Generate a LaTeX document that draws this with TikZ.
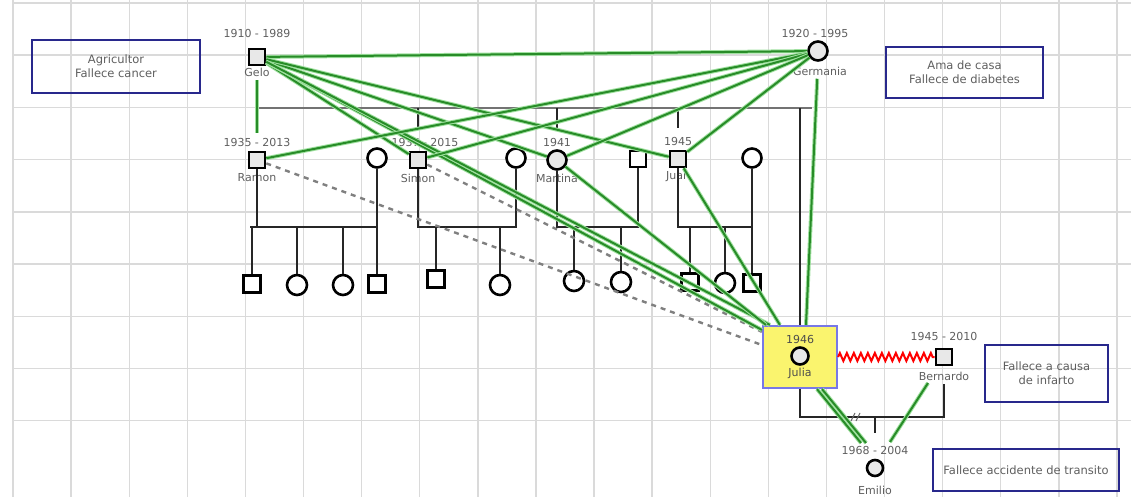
\documentclass[tikz,border=0pt]{standalone}
\usepackage{fontspec}
\setmainfont{DejaVu Sans}
\usetikzlibrary{calc,decorations.pathmorphing}
\definecolor{gline}{RGB}{40,140,40}
\definecolor{ghalo}{RGB}{160,225,160}
\definecolor{boxblue}{RGB}{40,40,140}
\definecolor{julbord}{RGB}{120,120,230}
\definecolor{julfill}{RGB}{250,244,110}
\definecolor{txt}{RGB}{95,95,95}
\definecolor{gridc}{RGB}{218,218,218}
\begin{document}
\begin{tikzpicture}[x=1pt,y=-1pt,
  gridline/.style={draw=gridc,line width=1.4pt},
  male/.style={draw=black,line width=2.6pt,rectangle,minimum size=16pt,inner sep=0pt,fill=white},
  female/.style={draw=black,line width=2.6pt,circle,minimum size=19pt,inner sep=0pt,fill=white},
  named/.style={fill=gray!18},
  lbl/.style={text=txt,font=\fontsize{11}{12}\selectfont,inner sep=0pt},
  note/.style={draw=boxblue,line width=2.2pt,text=txt,font=\fontsize{11.5}{14}\selectfont,align=center,inner sep=0pt},
  famline/.style={draw=black!85,line width=2.5pt},
  sibline/.style={draw=black!55,line width=2pt},
  emo/.style={draw=gline,line width=2pt,preaction={draw=ghalo,line width=4pt}},
  dashline/.style={draw=black!50,line width=2.4pt,dash pattern=on 5pt off 5pt},
  julbox/.style={draw=julbord,fill=julfill,line width=2.2pt,minimum width=74pt,minimum height=62pt,inner sep=0pt}
]
\useasboundingbox (0,0) rectangle (1131,497);
\fill[white] (0,0) rectangle (1131,497);
% grid
\foreach \i in {0,...,19} \draw[gridline] ({13+58.1*\i},0) -- ({13+58.1*\i},497);
\foreach \j in {0,...,8} \draw[gridline] (13,{3+52.2*\j}) -- (1131,{3+52.2*\j});

% notes
\node[note,minimum width=168pt,minimum height=53pt] (n1) at (116,66.5) {Agricultor\\Fallece cancer};
\node[note,minimum width=157pt,minimum height=51pt] (n2) at (964.5,72.5) {Ama de casa\\Fallece de diabetes};
\node[note,minimum width=123pt,minimum height=57pt] (n3) at (1046.5,373.5) {Fallece a causa\\de infarto};
\node[note,minimum width=186pt,minimum height=42pt] (n4) at (1026,470) {Fallece accidente de transito};

% grandparents
\node[male,named] (gelo) at (257,57) {};
\node[lbl] (geloy) at (257,33) {1910 - 1989};
\node[lbl] (gelon) at (257,72) {Gelo};
\node[female,named] (germania) at (818,51) {};
\node[lbl] (germy) at (815,33) {1920 - 1995};
\node[lbl] (germn) at (820,71) {Germania};

% generation 2
\node[male,named] (ramon) at (257,160) {};
\node[lbl] (ramony) at (257,142) {1935 - 2013};
\node[lbl] (ramonn) at (257,178) {Ramon};
\node[male,named] (simon) at (418,160) {};
\node[lbl] (simony) at (425,142) {1937 - 2015};
\node[lbl] (simonn) at (418,178) {Simon};
\node[female,named] (martina) at (557,160) {};
\node[lbl] (martinay) at (557,142) {1941};
\node[lbl] (martinan) at (557,178) {Martina};
\node[male,named] (juan) at (678,159) {};
\node[lbl] (juany) at (678,141) {1945};
\node[lbl] (juann) at (678,177) {Juan};
\node[female] (p1) at (377,158) {};
\node[female] (p2) at (516,158) {};
\node[male] (p3) at (638,159) {};
\node[female] (p4) at (752,158) {};

% generation 3
\node[male,minimum size=17pt] (c1) at (252,284) {};
\node[female,minimum size=20pt] (c2) at (297,285) {};
\node[female,minimum size=20pt] (c3) at (343,285) {};
\node[male,minimum size=17pt] (c4) at (377,284) {};
\node[male,minimum size=17pt] (c5) at (436,279) {};
\node[female,minimum size=20pt] (c6) at (500,285) {};
\node[female,minimum size=20pt] (c7) at (574,281) {};
\node[female,minimum size=20pt] (c8) at (621,282) {};
\node[male,minimum size=17pt] (c9) at (690,282) {};
\node[female,minimum size=20pt] (c10) at (725,283) {};
\node[male,minimum size=17pt] (c11) at (752,283) {};

% Julia, Bernardo, Emilio
\node[julbox] (julia) at (800,357) {};
\node[lbl,text=black!70] (juliay) at (800,339) {1946};
\node[female,named,minimum size=17pt] (juliac) at (800,356) {};
\node[lbl,text=black!70] (julian) at (800,373) {Julia};
\node[male,named] (bernardo) at (944,357) {};
\node[lbl] (bernardoy) at (944,336) {1945 - 2010};
\node[lbl] (bernardon) at (944,376) {Bernardo};
\node[female,named,minimum size=16pt] (emilio) at (875,468) {};
\node[lbl] (emilioy) at (875,450) {1968 - 2004};
\node[lbl] (emilion) at (875,490) {Emilio};

% junction coordinates
\coordinate (sibL) at (259,108);
\coordinate (sibR) at (812,108);
\coordinate (rL) at (250,227);
\coordinate (rR) at (377,227);
\coordinate (sj) at (0,227);
\coordinate (mj) at (0,417);
\coordinate (bdrop) at (944,384);
\coordinate (edrop) at (875,433);

% sibling line
\draw[sibline] (sibL) -- (sibR);
\draw[famline] (simon.north |- sibL) -- ($(simon.north)+(0,-24)$);
\draw[famline] (martina.north |- sibL) -- ($(martina.north)+(0,-21)$);
\draw[famline] (juan.north |- sibL) -- ($(juan.north)+(0,-22)$);
\draw[famline] (julia.north |- sibL) -- (julia.north);

% Ramon family
\draw[famline] (ramon.south) -- (ramon.south |- rL);
\draw[famline] (rL) -- (rR);
\draw[famline] (p1.south) -- (c4.north);
\draw[famline] (c1.north) -- (c1.north |- rL);
\draw[famline] (c2.north) -- (c2.north |- rL);
\draw[famline] (c3.north) -- (c3.north |- rL);
% Simon family
\draw[famline] (simon.south) -- (simon.south |- sj) -- (p2.south |- sj) -- (p2.south);
\draw[famline] (c5.north) -- (c5.north |- sj);
\draw[famline] (c6.north) -- (c6.north |- sj);
% Martina family
\draw[famline] (martina.south) -- (martina.south |- sj) -- (p3.south |- sj) -- (p3.south);
\draw[famline] (c7.north) -- (c7.north |- sj);
\draw[famline] (c8.north) -- (c8.north |- sj);
% Juan family
\draw[famline] (juan.south) -- (juan.south |- sj) -- (p4.south |- sj);
\draw[famline] (p4.south) -- (c11.north);
\draw[famline] (c9.north) -- (c9.north |- sj);
\draw[famline] (c10.north) -- (c10.north |- sj);

% Julia - Bernardo
\draw[famline] (julia.south) -- (julia.south |- mj) -- (bdrop |- mj) -- (bdrop);
\draw[famline] (edrop |- mj) -- (edrop);
\draw[black!60,line width=1pt] (851,421) -- (855,413) (856,421) -- (860,413);
\draw[red,line width=2pt,decorate,decoration={zigzag,segment length=7pt,amplitude=4pt}] (julia.east) -- (bernardo.west);

% dashed relations
\draw[dashline] (ramon) -- ($(julia.west)+(0,-12)$);
\draw[dashline] (simon) -- ($(julia.north west)+(0,7)$);

% emotional relations (green)
\draw[emo] (gelo) -- (germania);
\draw[emo,shorten <=14pt,shorten >=18pt] (gelo) -- (ramon);
\draw[emo] (gelo) -- (simon);
\draw[emo] (gelo) -- (martina);
\draw[emo] (gelo) -- (juan);
\draw[emo] (gelo) -- ($(julia.north west)+(0,5)$);
\draw[emo] (gelo) -- ($(julia.north west)+(8,0)$);
\draw[emo] (germania) -- (ramon);
\draw[emo] (germania) -- (simon);
\draw[emo] (germania) -- (martina);
\draw[emo] (germania) -- (juan);
\draw[emo,shorten <=17pt] (germania.south) -- ($(julia.north)+(6,0)$);
\draw[emo] (martina) -- ($(julia.north west)+(4,0)$);
\draw[emo] (juan) -- ($(julia.north west)+(18,0)$);
\draw[emo] ($(julia.south)+(17,0)$) -- ($(emilio)+(-14,-25)$);
\draw[emo] ($(julia.south)+(22,0)$) -- ($(emilio)+(-9,-25)$);
\draw[emo] ($(bernardo)+(-16,26)$) -- ($(emilio)+(15,-26)$);
\end{tikzpicture}
\end{document}
